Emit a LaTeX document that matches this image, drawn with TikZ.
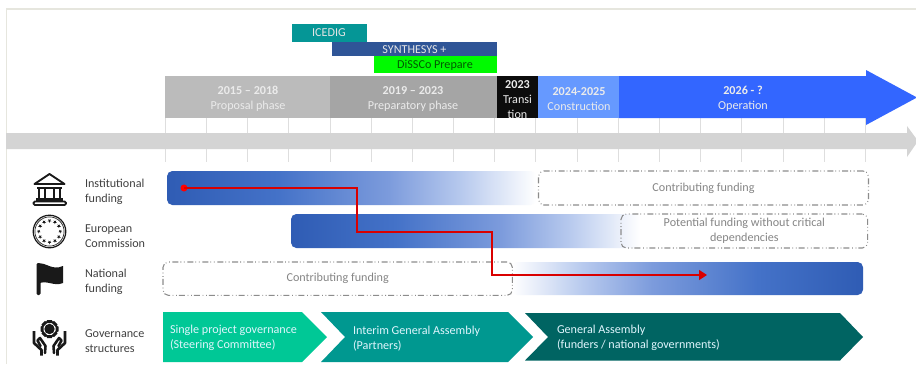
\documentclass[tikz,border=0pt]{standalone}
\usepackage{fontspec}
\setmainfont{Carlito}
\usetikzlibrary{arrows.meta}
\definecolor{barblue}{HTML}{2F5CB4}
\definecolor{barmida}{HTML}{4472C8}
\definecolor{barmidb}{HTML}{7C9BDC}
\definecolor{barmidc}{HTML}{B8CAEE}
\definecolor{framecol}{HTML}{E6E6DE}
\definecolor{cicedig}{HTML}{059696}
\definecolor{csyn}{HTML}{2F5597}
\definecolor{cdiss}{HTML}{00FA00}
\definecolor{cph1}{HTML}{BBBBBB}
\definecolor{cph2}{HTML}{A5A5A5}
\definecolor{cph3}{HTML}{0C0C0C}
\definecolor{cph4}{HTML}{6699FF}
\definecolor{cph5}{HTML}{3366FF}
\definecolor{cg1}{HTML}{00C896}
\definecolor{cg2}{HTML}{009890}
\definecolor{cg3}{HTML}{006462}
\pgfdeclarehorizontalshading{fadeout}{100bp}{color(0bp)=(barblue); color(25bp)=(barblue); color(40bp)=(barmida); color(55bp)=(barmidb); color(65bp)=(barmidc); color(75bp)=(white); color(100bp)=(white)}
\pgfdeclarehorizontalshading{fadein}{100bp}{color(0bp)=(white); color(25bp)=(white); color(35bp)=(barmidc); color(45bp)=(barmidb); color(60bp)=(barmida); color(75bp)=(barblue); color(100bp)=(barblue)}
\tikzset{
  every node/.style={inner sep=0pt,outer sep=0pt,align=center,font=\fontsize{9.1}{11.25}\selectfont},
  phase/.style={text=white!92!black,yshift=-0.8pt},
  rowlabel/.style={anchor=west,align=left,text=black!75,yshift=-0.6pt},
  chevtext/.style={anchor=west,align=left,text=white!88!cyan,yshift=-0.6pt},
  tick/.style={draw=black!13,line width=0.6pt},
  dashbox/.style={draw=black!45,line width=0.8pt,rounded corners=4pt,dash pattern=on 4.5pt off 2pt on 0.6pt off 2pt on 0.6pt off 1.5pt},
  graytext/.style={text=black!48},
  route/.style={draw=red!85!black,line width=1pt,-{Triangle[length=6pt,width=7.5pt]}},
  icon/.style={black!90}
}
\begin{document}
\begin{tikzpicture}[x=0.75pt,y=-0.75pt]
\useasboundingbox (0,0) rectangle (916,364);
\fill[white] (0,0) rectangle (916,364);
% frame
\draw[framecol,line width=0.8pt] (6.5,364) -- (6.5,9) -- (916,9);
% ticks
\foreach \x in {165,206,247,288,330,371,412,453,494,535,577,618,659,700,741,783,824,865}{
  \draw[tick] (\x,118) -- (\x,162);
}
% grey arrow
\fill[black!17] (6,133) -- (907,133) -- (907,126) -- (918,141) -- (907,157) -- (907,149) -- (6,149) -- cycle;
% projects
\fill[cicedig] (292,24) rectangle (367,41.5);
\node[text=white!90!black] (icedig) at (329,33) {ICEDIG};
\fill[csyn] (332,41.5) rectangle (497,55.5);
\node[text=white!90!black] (syn) at (414.5,49.5) {SYNTHESYS +};
\fill[cdiss] (374,55.5) rectangle (497,73);
\node[text=black!65!green] (diss) at (435,65) {DiSSCo Prepare};
% phases
\fill[cph1] (165,76) rectangle (330,118);
\fill[cph2] (330,76) rectangle (497,118);
\fill[cph3] (497,76) rectangle (538,118);
\fill[cph4] (538,76) rectangle (619,118);
\fill[cph5] (619,76) -- (866,76) -- (866,70) -- (917,97.5) -- (866,125) -- (866,118) -- (619,118) -- cycle;
\node[phase] (ph1) at (248,97.5) {\textbf{2015 – 2018}\\Proposal phase};
\node[phase] (ph2) at (413,97.5) {\textbf{2019 – 2023}\\Preparatory phase};
\node[phase] (ph3) at (517.5,98) {\textbf{2023}\\Transi\\tion};
\node[phase] (ph4) at (579,97.5) {\textbf{2024-2025}\\Construction};
\node[phase] (ph5) at (743,97.5) {\textbf{2026 - ?}\\Operation};
% funding bars
\shade[shading=fadeout,rounded corners=4pt] (167,171) rectangle (536,205);
\shade[shading=fadeout,rounded corners=4pt] (291,214) rectangle (640,248);
\shade[shading=fadein,rounded corners=4pt] (512,262) rectangle (863,295);
\node[dashbox,minimum width=247.5pt,minimum height=25.5pt,anchor=north west,graytext] (cf1) at (538.5,171) {Contributing funding};
\node[dashbox,minimum width=185pt,minimum height=25.5pt,anchor=north west,graytext] (pf) at (621,214) {Potential funding without critical\\dependencies};
\node[dashbox,minimum width=262pt,minimum height=25pt,anchor=north west,graytext] (cf2) at (163,262) {Contributing funding};
% red route
\coordinate (r0) at (184,188);
\coordinate (r1) at (357,188);
\coordinate (r2) at (357,232);
\coordinate (r3) at (492,232);
\coordinate (r4) at (492,275);
\coordinate (r5) at (707,275);
\fill[red] (r0) circle (3.5);
\draw[route] (r0) -- (r1) -- (r2) -- (r3) -- (r4) -- (r5);
% chevrons
\fill[cg1] (163,312) -- (302,312) -- (327,337) -- (302,362) -- (163,362) -- cycle;
\fill[cg2] (321,312) -- (508,312) -- (533,337) -- (508,362) -- (321,362) -- (345,337) -- cycle;
\fill[cg3] (525,313) -- (840,313) -- (863,337) -- (840,360.5) -- (525,360.5) -- (548,337) -- cycle;
\node[chevtext] (g1) at (170,337.5) {Single project governance\\(Steering Committee)};
\node[chevtext] (g2) at (353,337.5) {Interim General Assembly\\(Partners)};
\node[chevtext] (g3) at (557,337.5) {General Assembly\\(funders / national governments)};
% row labels
\node[rowlabel] (l1) at (85,191.5) {Institutional\\funding};
\node[rowlabel] (l2) at (85,235) {European\\Commission};
\node[rowlabel] (l3) at (85,281) {National\\funding};
\node[rowlabel] (l4) at (85,340) {Governance\\structures};
% bank icon
\draw[icon,line width=1.4pt,line join=round] (49.5,174) -- (34.5,184) -- (64.5,184) -- cycle;
\fill[icon] (37,186.5) rectangle (62,188.5);
\foreach \x in {38,44,52.5,59}{
  \fill[icon] (\x,188.5) rectangle (\x+2.4,198);
}
\fill[icon] (36,198) rectangle (63,200.5);
\draw[icon,line width=1.3pt,rounded corners=1pt] (33.5,205) rectangle (66,201.5);
% EC icon
\draw[icon,line width=0.9pt] (49.5,231.5) circle (16.3);
\draw[icon,line width=0.5pt] (49.5,231.5) circle (14.6);
\foreach \a in {0,30,...,330}{
  \fill[icon,shift={(49.5,231.5)},shift={(\a:10.8)}] (90:2.1) -- (234:2.1) -- (18:2.1) -- (162:2.1) -- (306:2.1) -- cycle;
}
% flag icon
\fill[icon,rounded corners=1pt] (36.5,263) -- (40.5,263) -- (40.5,295) -- (36.5,295) -- cycle;
\fill[icon] (38,263.5) .. controls (46,262) and (52,271) .. (63,266) -- (63,283) .. controls (54,287) and (46,279) .. (38,284) -- cycle;
% governance icon
\foreach \a in {0,45,...,315}{
  \fill[icon,shift={(49.5,329)},rotate=\a] (-2.4,-9) -- (2.4,-9) -- (3.5,-6) -- (-3.5,-6) -- cycle;
}
\draw[icon,line width=0.9pt] (49.5,329) circle (7.5);
\fill[icon] (49.5,329) circle (5.2);
\foreach \s in {1,-1}{
  \begin{scope}[shift={(49.5,0)},xscale=\s]
    \draw[icon,line width=2pt,line join=round] (-15.5,331) -- (-15.5,343) -- (-8,350) -- (-8,355.5);
    \draw[icon,line width=1.9pt,line join=round,line cap=round] (-4.5,353) -- (-4,346) -- (-9.5,338) -- (-12,340.5) -- (-9,346);
  \end{scope}
}
\end{tikzpicture}
\end{document}
